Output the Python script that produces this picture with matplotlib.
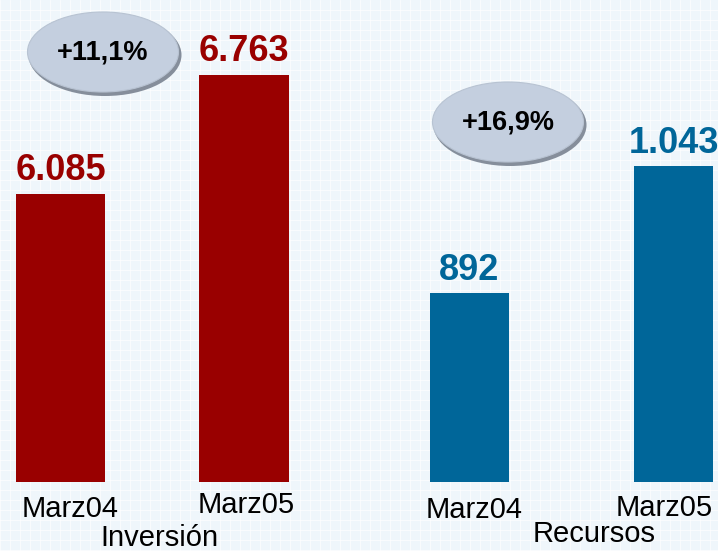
"""Inversión / Recursos comparison, Marz04 vs Marz05."""
import matplotlib.pyplot as plt
import matplotlib.transforms as mtransforms
import numpy as np
from matplotlib.patches import Ellipse

periods = ["Marz04", "Marz05"]
inversion = [6085, 6763]
recursos = [892, 1043]
inversion_labels = ["6.085", "6.763"]
recursos_labels = ["892", "1.043"]
growth_labels = ["+11,1%", "+16,9%"]
group_names = ["Inversión", "Recursos"]

RED = "#990000"
BLUE = "#006699"
BG = "#eff6fb"

plt.rcParams["font.family"] = ["Liberation Sans", "DejaVu Sans"]

W, H = 718, 551
fig = plt.figure(figsize=(W / 100, H / 100), dpi=100)
fig.patch.set_facecolor(BG)

# faint white grid behind everything
bg = fig.add_axes([0, 0, 1, 1], zorder=0)
bg.set_xlim(0, W)
bg.set_ylim(0, H)
bg.set_facecolor(BG)
bg.set_xticks(np.arange(0, W, 10))
bg.set_yticks(np.arange(1, H, 10))
bg.grid(True, color="white", linewidth=0.5, alpha=0.9)
bg.tick_params(length=0, labelbottom=False, labelleft=False)
for s in bg.spines.values():
    s.set_visible(False)

bottom_frac = (H - 482) / H


def panel(left_px, right_px, values, labels, color, ylim, xlim, width,
          name, name_x, name_y, label_shift):
    ax = fig.add_axes([left_px / W, bottom_frac, (right_px - left_px) / W, 1 - bottom_frac],
                      zorder=1)
    ax.patch.set_alpha(0)
    x = np.arange(len(values))
    ax.bar(x, values, width=width, color=color)
    ax.set_ylim(*ylim)
    ax.set_xlim(*xlim)
    for xi, v, lab in zip(x, values, labels):
        ax.annotate(lab, (xi, v), xytext=(0, 4), textcoords="offset points",
                    ha="center", va="bottom", fontsize=26, fontweight="bold",
                    color=color)
    ax.set_xticks(x)
    ax.set_xticklabels(periods, fontsize=21)
    ax.tick_params(length=0, pad=8)
    for tl, (dx, dy) in zip(ax.get_xticklabels(), label_shift):
        tl.set_transform(tl.get_transform()
                         + mtransforms.ScaledTranslation(dx / 100, -dy / 100,
                                                         fig.dpi_scale_trans))
    ax.set_yticks([])
    for s in ax.spines.values():
        s.set_visible(False)
    fig.text(name_x / W, 1 - name_y / H, name, ha="center", va="center", fontsize=21)
    return ax


panel(0, 359, inversion, inversion_labels, RED, (4444, 7190), (-0.33, 1.627), 0.49,
      group_names[0], 159, 538, [(10, 2), (2, -2)])
panel(359, 718, recursos, recursos_labels, BLUE, (667, 1241), (-0.542, 1.218), 0.387,
      group_names[1], 594, 534, [(5, 3), (-9, 1)])

# growth bubbles
for (cx, cy), txt in zip([(103, 52), (508, 122)], growth_labels):
    shadow = Ellipse(((cx + 2) / W, 1 - (cy + 3) / H), 153 / W, 82 / H,
                     transform=fig.transFigure, facecolor="#858e9b", edgecolor="none",
                     zorder=2)
    body = Ellipse((cx / W, 1 - cy / H), 151 / W, 80 / H,
                   transform=fig.transFigure, facecolor="#c4cfdf", edgecolor="#b8c3d2",
                   linewidth=0.8, zorder=3)
    fig.add_artist(shadow)
    fig.add_artist(body)
    fig.text(cx / W, 1 - (cy + 1) / H, txt, ha="center", va="center",
             fontsize=19.5, fontweight="bold", color="black", zorder=4)

fig.savefig("out.png", dpi=100, facecolor=BG)
